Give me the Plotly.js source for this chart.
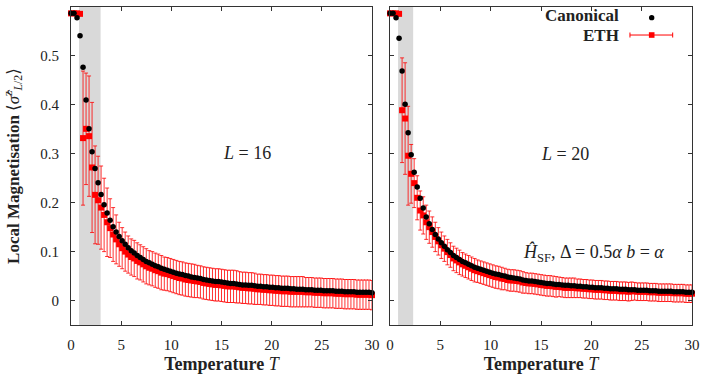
<!DOCTYPE html>
<html><head><meta charset="utf-8">
<script src="https://cdn.plot.ly/plotly-3.0.1.min.js"></script>
<style>html,body{margin:0;padding:0;background:#fff}#plot{width:706px;height:374px}</style>
</head><body><div id="plot"></div>
<script>
// Temperature grid
const T = [0,0.3,0.6,0.9,1.2,1.5,1.8,2.1,2.4,2.7,3,3.3,3.6,3.9,4.2,4.5,4.8,5.1,5.4,5.7,6,6.3,6.6,6.9,7.2,7.5,7.8,8.1,8.4,8.7,9,9.3,9.6,9.9,10.2,10.5,10.8,11.1,11.4,11.7,12,12.3,12.6,12.9,13.2,13.5,13.8,14.1,14.4,14.7,15,15.3,15.6,15.9,16.2,16.5,16.8,17.1,17.4,17.7,18,18.3,18.6,18.9,19.2,19.5,19.8,20.1,20.4,20.7,21,21.3,21.6,21.9,22.2,22.5,22.8,23.1,23.4,23.7,24,24.3,24.6,24.9,25.2,25.5,25.8,26.1,26.4,26.7,27,27.3,27.6,27.9,28.2,28.5,28.8,29.1,29.4,29.7,30];

// L = 16 : canonical
const canonL16 = [0.587,0.587,0.578,0.541,0.477,0.410,0.351,0.304,0.270,0.241,0.217,0.196,0.179,0.164,0.151,0.140,0.131,0.122,0.115,0.108,0.102,
0.097,0.092,0.088,0.084,0.080,0.077,0.074,0.071,0.069,0.066,0.064,0.062,0.060,0.058,0.056,0.054,0.053,0.051,0.050,0.048,0.047,0.046,0.045,0.043,0.042,0.041,0.040,0.039,0.039,0.038,0.037,0.036,0.035,0.035,0.034,0.033,0.032,0.032,0.031,0.031,0.030,0.029,0.029,0.028,0.028,0.027,0.027,0.026,0.026,0.025,0.025,0.025,0.024,0.024,0.023,0.023,0.023,0.022,0.022,0.022,0.021,0.021,0.021,0.020,0.020,0.020,0.020,0.019,0.019,0.019,0.018,0.018,0.018,0.018,0.017,0.017,0.017,0.017,0.017,0.016];
// L = 16 : ETH mean and spread
const ethL16 = [0.587,0.587,0.587,0.586,0.332,0.351,0.336,0.272,0.216,0.205,0.190,0.175,0.160,0.148,0.135,0.125,0.115,0.107,0.100,0.094,0.089,
0.086,0.081,0.078,0.074,0.070,0.067,0.065,0.062,0.060,0.057,0.055,0.054,0.052,0.050,0.048,0.046,0.045,0.043,0.042,0.041,0.040,0.039,0.038,0.036,0.035,0.034,0.033,0.032,0.032,0.031,0.030,0.029,0.029,0.029,0.028,0.027,0.026,0.026,0.025,0.025,0.024,0.023,0.023,0.022,0.022,0.021,0.021,0.020,0.020,0.019,0.019,0.019,0.018,0.018,0.018,0.018,0.018,0.017,0.017,0.017,0.016,0.016,0.016,0.015,0.015,0.015,0.015,0.014,0.014,0.014,0.013,0.013,0.013,0.013,0.012,0.012,0.012,0.012,0.012,0.011];
const errL16 = [0.002,0.002,0.002,0.003,0.137,0.114,0.123,0.133,0.100,0.090,0.085,0.075,0.070,0.060,0.055,0.050,0.045,0.042,0.040,0.038,0.037,
0.037,0.037,0.036,0.036,0.036,0.035,0.035,0.035,0.035,0.035,0.034,0.034,0.034,0.034,0.034,0.034,0.034,0.034,0.034,0.034,0.034,0.033,0.033,0.033,0.033,0.033,0.033,0.033,0.033,0.033,0.033,0.033,0.033,0.033,0.033,0.032,0.032,0.032,0.032,0.032,0.032,0.031,0.031,0.031,0.031,0.031,0.031,0.031,0.031,0.031,0.031,0.031,0.031,0.031,0.031,0.031,0.031,0.030,0.030,0.030,0.030,0.030,0.030,0.030,0.030,0.030,0.030,0.030,0.030,0.030,0.030,0.030,0.030,0.030,0.030,0.030,0.030,0.030,0.030,0.030];

// L = 20 : canonical
const canonL20 = [0.587,0.587,0.578,0.536,0.469,0.401,0.343,0.298,0.262,0.232,0.209,0.189,0.171,0.157,0.145,0.135,0.126,0.118,0.111,0.104,0.098,
0.092,0.088,0.084,0.080,0.077,0.074,0.071,0.068,0.066,0.064,0.062,0.060,0.058,0.056,0.054,0.053,0.051,0.050,0.048,0.047,0.046,0.045,0.044,0.042,0.041,0.040,0.040,0.039,0.038,0.037,0.036,0.035,0.035,0.034,0.033,0.033,0.032,0.031,0.031,0.030,0.030,0.029,0.029,0.028,0.028,0.027,0.027,0.026,0.026,0.026,0.025,0.025,0.024,0.024,0.024,0.023,0.023,0.023,0.022,0.022,0.022,0.021,0.021,0.021,0.021,0.020,0.020,0.020,0.019,0.019,0.019,0.019,0.019,0.018,0.018,0.018,0.018,0.017,0.017,0.017];
// L = 20 : ETH mean and spread
const ethL20 = [0.587,0.587,0.587,0.586,0.389,0.372,0.296,0.259,0.240,0.210,0.184,0.174,0.160,0.150,0.140,0.130,0.121,0.113,0.106,0.099,0.093,
0.086,0.082,0.078,0.074,0.071,0.068,0.065,0.062,0.060,0.058,0.056,0.054,0.052,0.050,0.048,0.047,0.045,0.044,0.042,0.041,0.041,0.040,0.039,0.037,0.036,0.035,0.035,0.034,0.033,0.032,0.031,0.030,0.030,0.029,0.028,0.028,0.027,0.026,0.026,0.026,0.026,0.025,0.025,0.024,0.024,0.023,0.023,0.022,0.022,0.022,0.021,0.021,0.020,0.020,0.020,0.019,0.019,0.019,0.018,0.019,0.019,0.018,0.018,0.018,0.018,0.017,0.017,0.017,0.016,0.016,0.016,0.016,0.016,0.015,0.015,0.015,0.015,0.014,0.014,0.014];
const errL20 = [0.002,0.002,0.002,0.003,0.107,0.114,0.101,0.060,0.050,0.045,0.040,0.038,0.035,0.033,0.031,0.030,0.028,0.027,0.026,0.026,0.025,
0.025,0.025,0.025,0.024,0.024,0.024,0.024,0.024,0.023,0.023,0.023,0.023,0.023,0.023,0.023,0.023,0.023,0.022,0.022,0.022,0.022,0.022,0.022,0.022,0.021,0.021,0.021,0.021,0.021,0.021,0.021,0.021,0.021,0.021,0.021,0.020,0.020,0.020,0.020,0.020,0.020,0.019,0.019,0.019,0.019,0.019,0.019,0.019,0.019,0.019,0.019,0.019,0.019,0.019,0.019,0.019,0.019,0.019,0.019,0.019,0.018,0.018,0.018,0.018,0.018,0.018,0.018,0.018,0.018,0.018,0.018,0.018,0.018,0.018,0.018,0.018,0.018,0.018,0.018,0.018];

const xTicks = [0,5,10,15,20,25,30];
const yTicks = [0,0.1,0.2,0.3,0.4,0.5,0.6];
const yTickText = ['0','0.1','0.2','0.3','0.4','0.5','0.6'];
const bandL16 = [0.8, 2.95];
const bandL20 = [0.8, 2.3];

const FONT = 'Liberation Serif, DejaVu Serif, serif';
const RED = '#ff0000';

function ethTrace(y, err, xa, ya) {
  return {x: T, y: y, xaxis: xa, yaxis: ya, type: 'scatter', mode: 'markers', cliponaxis: false,
    marker: {symbol: 'square', size: 6, color: RED},
    error_y: {type: 'data', array: err, visible: true, color: 'rgba(255,0,0,0.8)', thickness: 1, width: 2},
    showlegend: false, hoverinfo: 'skip'};
}
function canonTrace(y, xa, ya) {
  return {x: T, y: y, xaxis: xa, yaxis: ya, type: 'scatter', mode: 'markers', cliponaxis: false,
    marker: {symbol: 'circle', size: 5.5, color: '#000'}, showlegend: false, hoverinfo: 'skip'};
}

const data = [
  ethTrace(ethL16, errL16, 'x', 'y'),
  canonTrace(canonL16, 'x', 'y'),
  ethTrace(ethL20, errL20, 'x2', 'y2'),
  canonTrace(canonL20, 'x2', 'y2')
];

const axCommon = {showline: true, mirror: 'ticks', linecolor: '#333', linewidth: 1, ticks: 'inside', ticklen: 4,
  tickcolor: '#333', showgrid: false, zeroline: false, tickfont: {family: FONT, size: 15, color: '#222'}};

const xTitle = {text: '<b>Temperature</b> <i>T</i>', font: {family: FONT, size: 18, color: '#222'}, standoff: 5};

const layout = {
  width: 706, height: 374, margin: {l: 71, r: 14, t: 7, b: 49},
  paper_bgcolor: '#fff', plot_bgcolor: '#fff', showlegend: false,
  font: {family: FONT, color: '#222'},
  xaxis: Object.assign({}, axCommon, {domain: [0, 0.4847], range: [0, 30], tickvals: xTicks, anchor: 'y', title: xTitle, ticklabelstandoff: 6}),
  xaxis2: Object.assign({}, axCommon, {domain: [0.5137, 1], range: [0, 30], tickvals: xTicks, anchor: 'y2', title: xTitle, ticklabelstandoff: 6}),
  yaxis: Object.assign({}, axCommon, {range: [-0.05, 0.6], tickvals: yTicks, ticktext: yTickText, anchor: 'x', ticklabelstandoff: 8,
    title: {text: '<b>Local Magnetisation</b> ⟨<i>σ̂</i><sup>z</sup><sub><i>L</i>/2</sub>⟩', font: {family: FONT, size: 17, color: '#222'}, standoff: 16}}),
  yaxis2: Object.assign({}, axCommon, {range: [-0.05, 0.6], tickvals: yTicks, showticklabels: false, anchor: 'x2'}),
  shapes: [
    {type: 'rect', xref: 'x', yref: 'y domain', x0: bandL16[0], x1: bandL16[1], y0: 0, y1: 1, fillcolor: '#d9d9d9', line: {width: 0}, layer: 'below'},
    {type: 'rect', xref: 'x2', yref: 'y2 domain', x0: bandL20[0], x1: bandL20[1], y0: 0, y1: 1, fillcolor: '#d9d9d9', line: {width: 0}, layer: 'below'},
    // legend glyphs
    {type: 'circle', xref: 'paper', yref: 'paper', xsizemode: 'pixel', ysizemode: 'pixel', xanchor: 0.9351, yanchor: 0.9665,
      x0: -2.7, x1: 2.7, y0: -2.7, y1: 2.7, fillcolor: '#000', line: {width: 0}},
    {type: 'line', xref: 'paper', yref: 'paper', x0: 0.9001, x1: 0.9689, y0: 0.9119, y1: 0.9119, line: {color: RED, width: 1}},
    {type: 'line', xref: 'paper', yref: 'paper', xsizemode: 'pixel', ysizemode: 'pixel', xanchor: 0.9001, yanchor: 0.9119, x0: 0, x1: 0, y0: -2.5, y1: 2.5, line: {color: RED, width: 1}},
    {type: 'line', xref: 'paper', yref: 'paper', xsizemode: 'pixel', ysizemode: 'pixel', xanchor: 0.9689, yanchor: 0.9119, x0: 0, x1: 0, y0: -2.5, y1: 2.5, line: {color: RED, width: 1}},
    {type: 'rect', xref: 'paper', yref: 'paper', xsizemode: 'pixel', ysizemode: 'pixel', xanchor: 0.9351, yanchor: 0.9119,
      x0: -2.8, x1: 2.8, y0: -2.8, y1: 2.8, fillcolor: RED, line: {width: 0}}
  ],
  annotations: [
    {xref: 'x', yref: 'y', x: 17.5, y: 0.301, text: '<i>L</i> = 16', showarrow: false, font: {family: FONT, size: 18, color: '#222'}},
    {xref: 'x2', yref: 'y2', x: 17.4, y: 0.300, text: '<i>L</i> = 20', showarrow: false, font: {family: FONT, size: 18, color: '#222'}},
    {xref: 'x2', yref: 'y2', x: 20.2, y: 0.097, text: '<i>Ĥ</i><sub>SF</sub>, Δ = 0.5<i>α</i> <i>b</i> = <i>α</i>', showarrow: false, font: {family: FONT, size: 18, color: '#222'}},
    {xref: 'paper', yref: 'paper', x: 0.8841, y: 0.9733, xanchor: 'right', yanchor: 'middle', text: '<b>Canonical</b>', showarrow: false, borderpad: 0, font: {family: FONT, size: 17, color: '#222'}},
    {xref: 'paper', yref: 'paper', x: 0.8841, y: 0.9119, xanchor: 'right', yanchor: 'middle', text: '<b>ETH</b>', showarrow: false, borderpad: 0, font: {family: FONT, size: 17, color: '#222'}}
  ]
};

Plotly.newPlot('plot', data, layout, {staticPlot: true, displayModeBar: false});
</script>
</body></html>
